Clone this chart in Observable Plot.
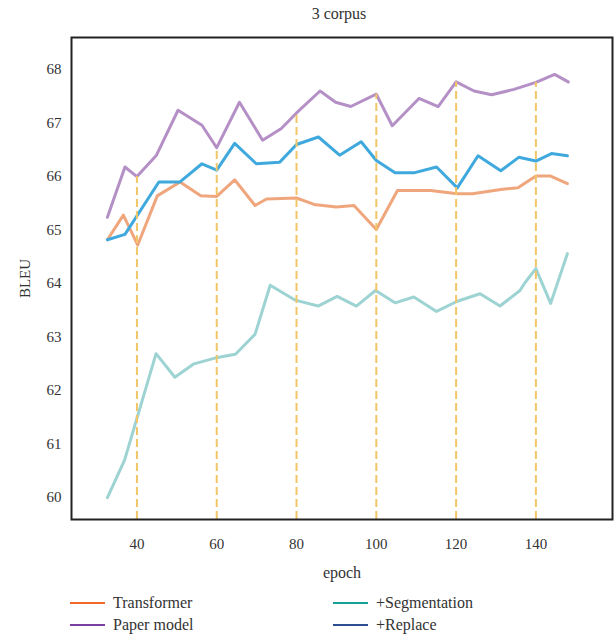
<!DOCTYPE html>
<html>
<head>
<meta charset="utf-8">
<script src="https://cdn.jsdelivr.net/npm/d3@7"></script>
<script src="https://cdn.jsdelivr.net/npm/@observablehq/plot@0.6"></script>
<style>
  body { margin: 0; background: #fff; }
  #wrap { position: relative; width: 614px; height: 635px; font-family: "Liberation Serif", serif; color: #333; }
  .title { position: absolute; top: 5px; left: 71px; width: 536px; text-align: center; font-size: 16px; }
  #chart { position: absolute; top: 30px; left: 0; }
  .leg { position: absolute; font-size: 16px; line-height: 18px; white-space: nowrap; font-family: "Liberation Serif", serif; }
  .sw { display: inline-block; width: 35px; height: 0; border-top: 2px solid; vertical-align: middle; margin-right: 8px; position: relative; top: -1px; }
</style>
</head>
<body>
<div id="wrap">
  <div class="title">3 corpus</div>
  <div id="chart"></div>
  <div id="legend"></div>
</div>
<script>
// Series data (epoch, BLEU)
const transformerEpoch = [32.6, 36.6, 40.2, 45.1, 50.8, 56, 60, 64.5, 69.6, 72.5, 80, 84.4, 90, 94.4, 100, 105.3, 113.6, 120.3, 124.1, 131.2, 135.5, 140, 143.7, 147.9];
const transformerBleu  = [64.82, 65.28, 64.72, 65.64, 65.90, 65.64, 65.63, 65.94, 65.46, 65.58, 65.60, 65.48, 65.43, 65.46, 65.01, 65.74, 65.74, 65.68, 65.68, 65.76, 65.79, 66.01, 66.01, 65.87];

const segmentationEpoch = [32.6, 36.9, 44.8, 49.5, 54.3, 60.2, 64.7, 69.6, 73.4, 79.7, 85.4, 90.2, 95, 99.8, 104.7, 109.4, 115.1, 120.3, 126, 131, 136, 137.3, 140, 143.7, 147.9];
const segmentationBleu  = [60.00, 60.70, 62.69, 62.25, 62.50, 62.62, 62.68, 63.05, 63.97, 63.69, 63.58, 63.76, 63.58, 63.87, 63.64, 63.75, 63.48, 63.67, 63.81, 63.58, 63.87, 64.02, 64.28, 63.63, 64.56];

const paperEpoch = [32.6, 37, 40, 44.9, 50.3, 56.3, 60, 65.7, 71.5, 76.2, 80, 85.9, 89.8, 93.6, 100, 104, 110.7, 115.5, 120, 124.5, 128.9, 134.5, 140, 144.7, 148.1];
const paperBleu  = [65.24, 66.18, 66.00, 66.40, 67.24, 66.96, 66.54, 67.39, 66.68, 66.90, 67.19, 67.60, 67.39, 67.31, 67.54, 66.95, 67.46, 67.31, 67.77, 67.60, 67.53, 67.63, 67.76, 67.91, 67.77];

const replaceEpoch = [32.6, 37, 45.5, 50.8, 56.3, 60, 64.5, 69.9, 75.8, 80, 85.5, 90.8, 96.2, 100, 104.7, 109.4, 115.1, 120.3, 125.5, 131.2, 135.7, 140, 143.9, 147.9];
const replaceBleu  = [64.82, 64.92, 65.90, 65.90, 66.24, 66.12, 66.62, 66.24, 66.27, 66.60, 66.74, 66.40, 66.65, 66.30, 66.07, 66.07, 66.18, 65.79, 66.39, 66.11, 66.36, 66.29, 66.43, 66.39];

const markerEpochs = [40, 60, 80, 100, 120, 140];
const xTicks = [40, 60, 80, 100, 120, 140];
const yTicks = [60, 61, 62, 63, 64, 65, 66, 67, 68];

const seriesNames = ["Transformer", "+Segmentation", "Paper model", "+Replace"];
const lineColors  = ["#f0a67d", "#9dd3d2", "#b590c6", "#3fa9de"];
const legendColors = ["#f26a2a", "#14a196", "#7a3f9f", "#2a4e90"];

const zip = (xs, ys) => xs.map((x, i) => ({epoch: x, bleu: ys[i]}));
const transformer = zip(transformerEpoch, transformerBleu);
const segmentation = zip(segmentationEpoch, segmentationBleu);
const paper = zip(paperEpoch, paperBleu);
const replace = zip(replaceEpoch, replaceBleu);

const yMin = 59.59, yMax = 68.6;
const markers = markerEpochs.map(e => {
  const p = paper.find(d => d.epoch === e);
  return {epoch: e, top: p.bleu};
});

const chart = Plot.plot({
  width: 614,
  height: 560,
  marginTop: 7,
  marginBottom: 71,
  marginLeft: 71,
  marginRight: 2,
  style: {fontFamily: "'Liberation Serif', serif", fontSize: "15px", color: "#333", background: "#fff"},
  x: {domain: [23.6, 159.2]},
  y: {domain: [yMin, yMax]},
  marks: [
    Plot.line(segmentation, {x: "epoch", y: "bleu", stroke: lineColors[1], strokeWidth: 3}),
    Plot.line(transformer, {x: "epoch", y: "bleu", stroke: lineColors[0], strokeWidth: 3}),
    Plot.line(replace, {x: "epoch", y: "bleu", stroke: lineColors[3], strokeWidth: 3}),
    Plot.line(paper, {x: "epoch", y: "bleu", stroke: lineColors[2], strokeWidth: 3}),
    Plot.ruleX(markers, {x: "epoch", y1: yMin, y2: "top", stroke: "#f2c566", strokeWidth: 2, strokeDasharray: "8,4"}),
    Plot.frame({stroke: "#222", strokeWidth: 2}),
    Plot.axisX({ticks: xTicks, tickSize: 0, tickPadding: 19, label: null, fontSize: 15}),
    Plot.axisY({ticks: yTicks, tickSize: 0, tickPadding: 10, label: null, fontSize: 15}),
    Plot.text(["BLEU"], {frameAnchor: "left", dx: -46, rotate: -90, textAnchor: "middle", lineAnchor: "middle", fontSize: 15, fill: "#333"}),
    Plot.text(["epoch"], {frameAnchor: "bottom", dy: 53, textAnchor: "middle", lineAnchor: "middle", fontSize: 16, fill: "#333"})
  ]
});
document.getElementById("chart").appendChild(chart);

// legend
const legendPos = [[70, 594], [333, 594], [70, 616], [333, 616]];
const leg = document.getElementById("legend");
seriesNames.forEach((name, i) => {
  const d = document.createElement("div");
  d.className = "leg";
  d.style.left = legendPos[i][0] + "px";
  d.style.top = legendPos[i][1] + "px";
  d.innerHTML = `<span class="sw" style="border-color:${legendColors[i]}"></span>${name}`;
  leg.appendChild(d);
});
</script>
</body>
</html>
